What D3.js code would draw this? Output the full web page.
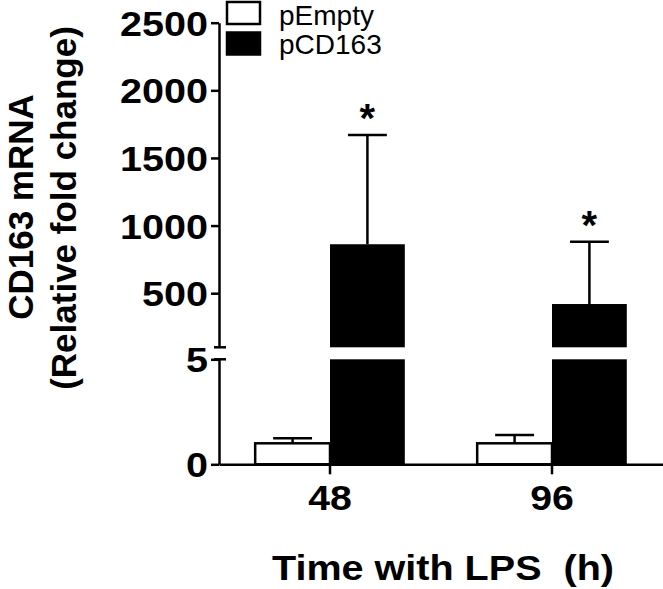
<!DOCTYPE html>
<html>
<head>
<meta charset="utf-8">
<script src="https://cdn.jsdelivr.net/npm/d3@7"></script>
<style>
  body { margin: 0; background: #fff; }
  text { font-family: "Liberation Sans", Arial, sans-serif; fill: #000; }
</style>
</head>
<body>
<div id="chart"></div>
<script>
// data
var times = ["48", "96"];
var groups = ["pEmpty", "pCD163"];
var emptyMean = [1.0, 1.0];
var emptyErr = [0.24, 0.40];
var cd163Mean = [862, 420];
var cd163Err = [808, 461];
var starred = [true, true];   // * above the pCD163 bars
var yTicksLow = [0, 5];
var yTicksHigh = [500, 1000, 1500, 2000, 2500];

var width = 663, height = 589;
var axisX = 219;

var svg = d3.select("#chart")
  .append("svg")
    .attr("width", width)
    .attr("height", height);

// broken y axis: lower piece 0-5, upper piece 100-2500
var yLow = d3.scaleLinear().domain([0, 5]).range([464.3, 359.3]);
var yHigh = d3.scaleLinear().domain([100, 2500]).range([347.3, 22.7]);

var x = d3.scaleBand()
  .domain(times)
  .range([axisX, width])
  .paddingInner(0.326)
  .paddingOuter(0.163);

var xs = d3.scaleBand()
  .domain(groups)
  .range([0, x.bandwidth()]);

// stretch text horizontally (the figure's font is a bit wider than Arial)
function stretch(sel, k) {
  sel.each(function() {
    var w = this.getComputedTextLength();
    d3.select(this).attr("textLength", w * k).attr("lengthAdjust", "spacingAndGlyphs");
  });
}

// bars
var rows = [];
times.forEach(function(t, i) {
  rows.push({time: t, key: "pEmpty", v: emptyMean[i], e: emptyErr[i], star: false});
  rows.push({time: t, key: "pCD163", v: cd163Mean[i], e: cd163Err[i], star: starred[i]});
});

var bars = svg.append("g");
rows.forEach(function(d) {
  var x0 = x(d.time) + xs(d.key);
  var w = xs.bandwidth();
  var fill = d.key == "pEmpty" ? "#fff" : "#000";
  var lowTop = yLow(Math.min(d.v, 5));
  bars.append("rect")
    .attr("x", x0)
    .attr("y", lowTop)
    .attr("width", w)
    .attr("height", yLow(0) - lowTop)
    .attr("fill", fill)
    .attr("stroke", "#000")
    .attr("stroke-width", d.key == "pEmpty" ? 2.5 : 0);
  if (d.v > 100) {
    bars.append("rect")
      .attr("x", x0)
      .attr("y", yHigh(d.v))
      .attr("width", w)
      .attr("height", yHigh(100) - yHigh(d.v))
      .attr("fill", fill);
  }
  // error bar (upper only)
  var yscale = d.v > 100 ? yHigh : yLow;
  var cx = x0 + w / 2;
  var topY = yscale(d.v + d.e);
  bars.append("line")
    .attr("x1", cx).attr("x2", cx)
    .attr("y1", yscale(d.v)).attr("y2", topY)
    .attr("stroke", "#000").attr("stroke-width", 2.5);
  bars.append("line")
    .attr("x1", cx - w * 0.26).attr("x2", cx + w * 0.26)
    .attr("y1", topY).attr("y2", topY)
    .attr("stroke", "#000").attr("stroke-width", 2.5);
  if (d.star) {
    bars.append("text")
      .attr("x", cx)
      .attr("y", topY - 3)
      .attr("text-anchor", "middle")
      .style("font-size", "40px")
      .style("font-weight", "bold")
      .text("*");
  }
});

// y axes
var gHigh = svg.append("g")
  .attr("transform", "translate(" + axisX + ",0)")
  .call(d3.axisLeft(yHigh).tickValues(yTicksHigh).tickFormat(d3.format("d"))
    .tickSize(8).tickSizeOuter(0).tickPadding(3));
var gLow = svg.append("g")
  .attr("transform", "translate(" + axisX + ",0)")
  .call(d3.axisLeft(yLow).tickValues(yTicksLow).tickFormat(d3.format("d"))
    .tickSize(8).tickSizeOuter(0).tickPadding(3));

[gHigh, gLow].forEach(function(g) {
  g.select(".domain").attr("stroke-width", 2.5);
  g.selectAll(".tick line").attr("stroke-width", 2.5);
  g.selectAll(".tick text")
    .attr("font-family", null)
    .attr("font-size", null)
    .attr("dy", "0.36em")
    .style("font-size", "35px")
    .style("font-weight", "bold");
  stretch(g.selectAll(".tick text"), 1.13);
});

// break marks where the axis is cut
[yHigh(100), yLow(5)].forEach(function(yy) {
  svg.append("line")
    .attr("x1", axisX - 5).attr("x2", axisX + 7)
    .attr("y1", yy).attr("y2", yy)
    .attr("stroke", "#000").attr("stroke-width", 2.5);
});

// x axis
var gx = svg.append("g")
  .attr("transform", "translate(0," + yLow(0) + ")")
  .call(d3.axisBottom(x).tickSize(10).tickSizeOuter(0).tickPadding(11));
gx.select(".domain").attr("stroke-width", 2.5);
gx.selectAll(".tick line").attr("stroke-width", 2.5);
gx.selectAll(".tick text")
  .attr("font-family", null)
  .attr("font-size", null)
  .style("font-size", "35px")
  .style("font-weight", "bold");
stretch(gx.selectAll(".tick text"), 1.12);

// axis titles
var xt = svg.append("text")
  .attr("x", 443)
  .attr("y", 580)
  .attr("text-anchor", "middle")
  .style("font-size", "35px")
  .style("font-weight", "bold")
  .style("white-space", "pre")
  .text("Time with LPS  (h)");
stretch(xt, 1.13);

svg.append("text")
  .attr("transform", "translate(33,207) rotate(-90)")
  .attr("text-anchor", "middle")
  .style("font-size", "35px")
  .style("font-weight", "bold")
  .text("CD163 mRNA");
svg.append("text")
  .attr("transform", "translate(76,208) rotate(-90)")
  .attr("text-anchor", "middle")
  .style("font-size", "35px")
  .style("font-weight", "bold")
  .text("(Relative fold change)");

// legend
var legend = svg.append("g");
groups.forEach(function(k, i) {
  legend.append("rect")
    .attr("x", 227)
    .attr("y", 2 + i * 30.5)
    .attr("width", 33)
    .attr("height", 22)
    .attr("fill", k == "pEmpty" ? "#fff" : "#000")
    .attr("stroke", "#000")
    .attr("stroke-width", 2.5);
  legend.append("text")
    .attr("x", 279)
    .attr("y", 25 + i * 29)
    .style("font-size", "28px")
    .text(k);
});
</script>
</body>
</html>
